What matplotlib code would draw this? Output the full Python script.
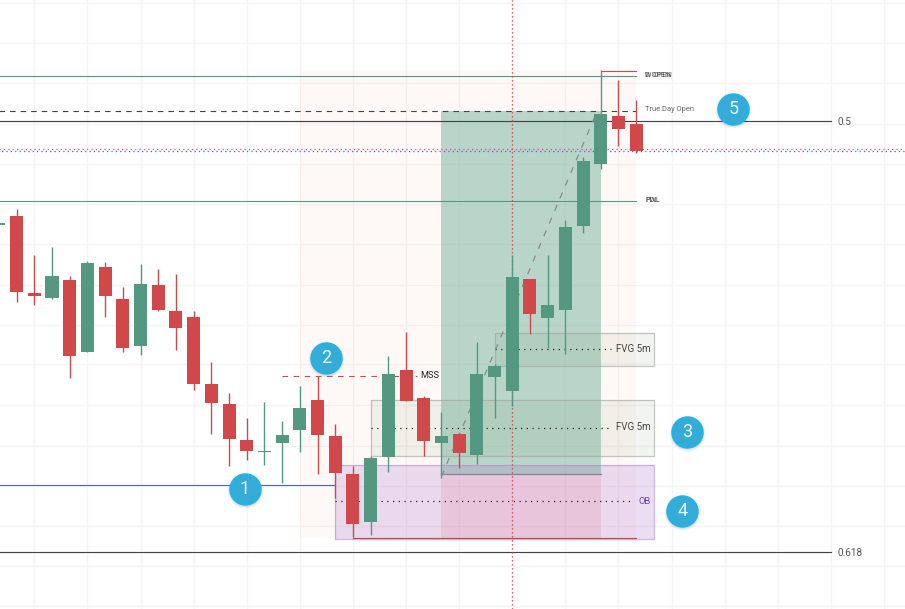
import matplotlib
matplotlib.use("Agg")
import matplotlib.pyplot as plt
import numpy as np

plt.rcParams['font.family'] = ['Roboto', 'DejaVu Sans']

# candles, index -1 is the one cut by the left edge
idx = np.arange(-1, 36)
opens = [384.3, 393, 316, 311, 329, 257.3, 342, 310, 263.3, 324, 298, 292, 225, 205, 169, 157, 166.3, 179.3, 209, 173, 135,
         87.3, 152.3, 239, 211, 166, 175, 154.3, 232.3, 218.3, 330, 291.3, 299.3, 383, 445.3, 493, 485]
highs = [386.3, 400, 354, 362, 333, 348, 347, 322, 345, 340, 335, 298, 247, 216, 191, 207, 188, 223, 233.3, 185, 143.3,
         153, 253, 277, 213, 197, 176.3, 267, 245, 354, 330, 354, 389, 452, 539, 529, 509]
lows = [384.3, 307.3, 304, 310, 231.3, 257.3, 292, 257.3, 254.3, 298, 259.3, 219.3, 175.3, 143.3, 149.3, 144.3, 126.3, 157.3, 135.3, 111.3, 72,
        74.3, 137.3, 208.3, 153.3, 131.3, 141.3, 145.3, 191.3, 203, 275.3, 261.3, 255.3, 376.3, 440.3, 463.3, 456.3]
closes = [386.3, 317.3, 313, 333, 253.3, 346, 313.3, 261.3, 325, 299.3, 281.3, 225.3, 206.3, 170.3, 158.3, 158, 174, 201, 174.3, 136.3, 85.3,
          151, 235, 208.3, 168.3, 173, 156.3, 235, 243, 332, 295.3, 304, 382, 448, 495, 480.3, 457.7]

# levels
open_green = 532.7
open_red = 538.5
true_day_open = 498.5
fib_50 = 487.7
dotted_red = 459.8
dotted_blue = 458.2
pdl = 408
mss = 233.5
fib_618 = 57
low_line = 123.7
ob_low = 71.5
entry = 134.7

# zones
fvg1_top, fvg1_bot, fvg1_mid = 208.6, 153.4, 181.5
fvg2_top, fvg2_bot, fvg2_mid = 275.7, 242.7, 259.7
ob_top, ob_bot, ob_mid = 143.7, 70.5, 107.7
session_top, session_bot = 539, 71.5

# numbered markers
mark_x = [12.9, 17.5, 37.9, 37.6, 40.5]
mark_y = [120, 251, 177, 98, 500]
mark_txt = ['1', '2', '3', '4', '5']

grid_x = np.arange(1, 52, 3)
grid_y = [3, 43, 83, 123, 163, 204, 245, 284, 324, 365, 405, 445, 485, 526, 566, 606]

RED = '#d1484b'
GREEN = '#559882'

fig = plt.figure(figsize=(9.05, 6.09), dpi=100)
ax = fig.add_axes([0, 0, 1, 1])
ax.set_xlim(-0.938, 50.19)
ax.set_ylim(0, 609)
ax.set_xticks(grid_x)
ax.set_yticks(grid_y)
ax.tick_params(length=0, labelbottom=False, labelleft=False)
ax.grid(True, color='#f4f4f4', lw=1)
ax.set_axisbelow(True)
for s in ax.spines.values():
    s.set_visible(False)

# session background and long position
ax.axvspan(16, 35, ymin=session_bot/609, ymax=session_top/609, color='#fd8a6a', alpha=0.05, lw=0, zorder=1)
ax.fill_between([24, 33], entry, true_day_open, color='#8fbfae', alpha=0.62, lw=0, zorder=2)
ax.fill_between([24, 33], ob_low, entry, color='#f7a8b4', alpha=0.3, lw=0, zorder=2)

# fvg and ob boxes
ax.fill_between([20, 36], fvg1_bot, fvg1_top, facecolor='#7a9a6c', alpha=0.1, edgecolor='none', zorder=3)
ax.fill_between([27, 36], fvg2_bot, fvg2_top, facecolor='#7a9a6c', alpha=0.1, edgecolor='none', zorder=3)
ax.fill_between([18, 36], ob_bot, ob_top, facecolor='#9c5cc0', alpha=0.2, edgecolor='none', zorder=3)
ax.plot([20, 36, 36, 20, 20], [fvg1_bot, fvg1_bot, fvg1_top, fvg1_top, fvg1_bot], color='#a0a09c', alpha=0.6, lw=0.9, zorder=3)
ax.plot([27, 36, 36, 27, 27], [fvg2_bot, fvg2_bot, fvg2_top, fvg2_top, fvg2_bot], color='#a0a09c', alpha=0.6, lw=0.9, zorder=3)
ax.plot([18, 36, 36, 18, 18], [ob_bot, ob_bot, ob_top, ob_top, ob_bot], color='#b08cc8', alpha=0.6, lw=0.9, zorder=3)

ax.plot([20, 33.6], [fvg1_mid, fvg1_mid], color='#222222', lw=0.9, ls=(0, (1, 3.6)), zorder=4)
ax.plot([27, 33.6], [fvg2_mid, fvg2_mid], color='#222222', lw=0.9, ls=(0, (1, 3.6)), zorder=4)
ax.plot([18, 34.8], [ob_mid, ob_mid], color='#222222', lw=0.9, ls=(0, (1, 3.6)), zorder=4)

# levels
ax.plot([-1, 35], [open_green, open_green], color=GREEN, lw=0.8, zorder=4)
ax.plot([33, 35], [open_red, open_red], color=RED, lw=0.8, zorder=4)
ax.plot([-1, 35], [true_day_open, true_day_open], color='#444444', lw=0.8, ls=(0, (5, 4.5)), zorder=4)
ax.plot([-1, 46], [fib_50, fib_50], color='#444444', lw=0.85, zorder=4)
ax.plot([-1, 51], [dotted_red, dotted_red], color='#e0457a', lw=0.9, ls=(0, (1, 2.5)), zorder=4)
ax.plot([-1, 51], [dotted_blue, dotted_blue], color='#4a5fe0', lw=0.9, ls=(1.5, (1, 2.5)), zorder=4)
ax.plot([-1, 35], [pdl, pdl], color=GREEN, lw=0.8, zorder=4)
ax.plot([15, 22.6], [mss, mss], color=RED, lw=0.8, ls=(0, (5, 5)), zorder=4)
ax.plot([-1, 46], [fib_618, fib_618], color='#444444', lw=0.85, zorder=4)
ax.plot([-1, 18], [low_line, low_line], color='#4a60d8', lw=0.8, zorder=4)
ax.plot([19, 35], [ob_low, ob_low], color=RED, lw=0.9, zorder=4)
ax.plot([24, 33], [entry, entry], color='#7d8a8c', lw=0.9, zorder=4)
ax.plot([24, 32.8], [132.5, 498], color='#8a8a8a', lw=0.9, ls=(0, (5, 6)), zorder=4)
ax.axvline(28, color='#e8383b', lw=0.9, ls=(0, (1, 2.2)), zorder=4)

# candles
o = np.array(opens)
c = np.array(closes)
cols = [GREEN if a >= b else RED for a, b in zip(c, o)]
ax.vlines(idx, lows, highs, colors=cols, lw=1, zorder=5)
ax.bar(idx, np.abs(c - o), bottom=np.minimum(o, c), width=0.735, color=cols, lw=0, zorder=6)

# labels
ax.text(35.5, 533.2, 'D OPEN', fontsize=5.2, color='#555555', va='center', zorder=7)
ax.text(35.5, 533.2, 'W OPEN', fontsize=5.2, color='#555555', va='center', zorder=7)
ax.text(35.5, 499.5, 'True Day Open', fontsize=5.4, color='#666666', va='center', zorder=7)
ax.text(46.35, fib_50 - 0.5, '0.5', fontsize=7.2, color='#555555', va='center', zorder=7)
ax.text(46.35, fib_618 - 0.5, '0.618', fontsize=7.2, color='#555555', va='center', zorder=7)
ax.text(35.5, 408.3, 'PDL', fontsize=5.2, color='#555555', va='center', zorder=7)
ax.text(35.5, 408.3, 'PWL', fontsize=5.2, color='#555555', va='center', zorder=7)
ax.text(22.8, mss, 'MSS', fontsize=6.6, color='#222222', va='center', zorder=7)
ax.text(35.82, fvg1_mid, 'FVG 5m', fontsize=7, color='#444444', ha='right', va='center', zorder=7)
ax.text(35.82, fvg2_mid, 'FVG 5m', fontsize=7, color='#444444', ha='right', va='center', zorder=7)
ax.text(35.82, ob_mid, 'OB', fontsize=6.8, color='#6a3fc0', ha='right', va='center', zorder=7)

# numbered markers with soft shadow
for r, a in [(680, 0.04), (620, 0.06), (570, 0.08)]:
    ax.scatter(mark_x, np.array(mark_y) - 0.5, s=r, color='#555555', alpha=a, lw=0, zorder=8)
ax.scatter(mark_x, mark_y, s=490, facecolor='#35acd8', edgecolor='#1db5ec', lw=1.2, zorder=9)
for x, y, t in zip(mark_x, mark_y, mark_txt):
    ax.text(x, y, t, fontsize=13, color='#eef9fd', ha='center', va='center', zorder=10)

plt.savefig("out.png", dpi=100)
